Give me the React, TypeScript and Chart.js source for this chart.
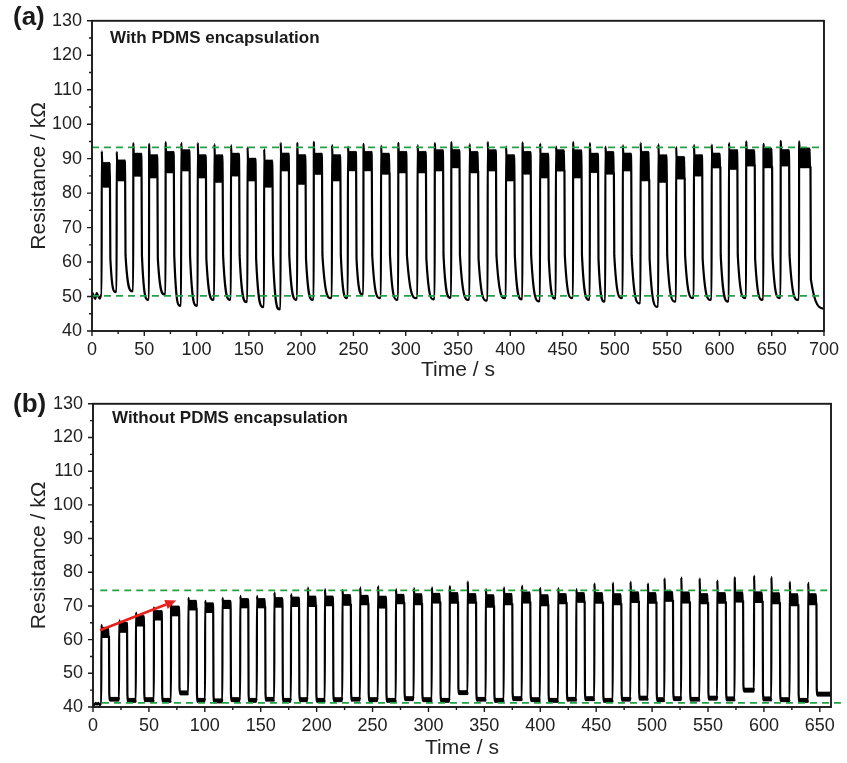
import React, { useEffect, useRef } from 'react';
import { Chart, registerables } from 'chart.js';
Chart.register(...registerables);

const FONT = '"Liberation Sans", Arial, Helvetica, sans-serif';
const INK = '#1a1a1a';
const GREEN = '#22a245';
const RED = '#e8201c';

// ---------- shared tick labels ----------
const Y_TICKS = [40, 50, 60, 70, 80, 90, 100, 110, 120, 130];
const A_X_TICKS = [0, 50, 100, 150, 200, 250, 300, 350, 400, 450, 500, 550, 600, 650, 700];
const B_X_TICKS = [0, 50, 100, 150, 200, 250, 300, 350, 400, 450, 500, 550, 600, 650];

// ---------- panel (a): with PDMS encapsulation ----------
const A_X_MAX = 700;
const A_PRE = [[0, 51.2], [1.5, 50.4], [3, 49.3], [4.5, 51.0], [6, 50.1], [7.5, 49.4], [9.0, 50.6]];
const A_RISE = [9.2, 23.5, 39.4, 54.5, 70.3, 85.2, 101.0, 116.9, 132.8, 148.6, 164.5, 180.3, 196.2, 212.0,
  229.4, 244.6, 259.5, 276.3, 292.8, 311.2, 327.7, 343.5, 361.0, 378.3, 395.8, 411.6, 428.4, 443.5,
  460.0, 476.0, 490.8, 507.5, 524.5, 541.5, 558.5, 575.5, 592.5, 609.0, 625.5, 642.0, 658.5, 676.1];
const A_DUR = [8.0, 8.2, 8.0, 8.1, 8.0, 8.2, 8.0, 8.1, 8.0, 8.0, 8.2, 8.0, 8.1, 8.0, 8.2, 8.0, 8.1, 8.3, 8.0, 8.2, 8.1,
  8.0, 8.3, 8.1, 8.2, 8.0, 8.1, 8.3, 8.2, 8.0, 8.3, 8.2, 8.4, 8.2, 8.3, 8.1, 8.4, 8.2, 8.3, 8.4, 8.2, 11.0];
const A_PEAK = [92.2, 92.0, 94.5, 94.3, 94.8, 94.6, 94.6, 94.2, 93.9, 93.3, 92.8, 94.6, 94.6, 94.9,
  94.0, 93.5, 94.3, 93.8, 94.6, 93.9, 94.5, 94.8, 94.2, 94.9, 93.6, 94.7, 94.4, 93.5,
  94.8, 94.5, 93.5, 93.9, 94.6, 94.2, 93.4, 94.0, 94.1, 94.6, 95.0, 94.3, 95.2, 95.0];
const A_TOP = [88.8, 89.5, 91.5, 91.0, 92.0, 92.5, 91.0, 91.0, 91.5, 90.0, 89.5, 91.5, 91.0, 91.5,
  91.0, 92.0, 92.0, 91.5, 92.0, 92.0, 92.5, 92.5, 92.0, 92.5, 91.0, 92.0, 91.5, 92.5,
  92.5, 91.5, 92.0, 91.5, 92.0, 91.0, 90.5, 91.0, 91.5, 92.5, 92.5, 93.0, 92.5, 93.0];
const A_BOT = [81.8, 83.7, 85.0, 84.6, 86.1, 86.6, 84.6, 83.2, 85.1, 83.7, 81.8, 86.6, 82.7, 85.5,
  83.7, 86.6, 86.6, 85.6, 86.1, 86.1, 86.6, 87.5, 86.1, 86.6, 83.7, 85.6, 84.6, 86.5,
  84.6, 86.1, 85.6, 86.6, 83.7, 83.2, 84.2, 85.1, 87.5, 87.0, 88.0, 87.5, 88.0, 87.5];
const A_KNEE = [61, 62, 62, 61, 62, 62, 61, 62, 62, 61, 62, 62, 61, 62, 62, 61, 62, 62, 62, 61, 62,
  62, 61, 62, 62, 62, 61, 62, 62, 61, 62, 62, 61, 62, 62, 61, 62, 62, 61, 62, 62, 55];
const A_LOW = [51.3, 51.5, 49.0, 50.6, 47.3, 47.3, 49.0, 49.0, 48.4, 46.9, 46.3, 49.0, 49.0, 49.5,
  49.5, 50.6, 49.5, 49.0, 49.5, 49.2, 49.6, 49.0, 48.8, 49.5, 49.2, 48.6, 49.4, 49.5,
  49.0, 48.5, 49.5, 48.0, 47.0, 48.5, 49.5, 49.0, 48.5, 49.5, 49.0, 49.5, 49.0, 46.5];
const A_REF = [
  { y: 93.3, x0: 0, x1: 700, clip: true },
  { y: 50.2, x0: 0, x1: 700, clip: true },
];

// ---------- panel (b): without PDMS encapsulation ----------
const B_X_MAX = 660;
const B_PRE = [[0, 41.1], [1.2, 40.6], [2.4, 41.2], [3.6, 40.7], [4.8, 41.2], [6.0, 40.6], [7.2, 41.0]];
const B_RISE = [7.4, 23.3, 38.3, 54.4, 69.7, 85.2, 100.2, 115.7, 131.6, 146.5, 162.1, 177.0, 192.0, 207.3,
  223.0, 238.8, 254.8, 270.8, 286.8, 302.9, 319.0, 335.0, 351.2, 367.3, 383.5, 399.7, 415.9, 432.1,
  448.3, 464.8, 480.6, 496.1, 511.0, 526.0, 542.4, 558.2, 573.8, 591.1, 606.6, 623.0, 639.5];
const B_DUR = [6.9, 7.2, 7.3, 7.2, 7.4, 7.5, 7.3, 7.4, 7.3, 7.5, 7.4, 7.3, 7.5, 7.4, 7.6, 7.5, 7.4, 7.6, 7.5, 7.7, 7.5,
  7.6, 7.5, 7.7, 7.6, 7.5, 7.7, 7.6, 7.8, 7.7, 7.6, 7.8, 7.7, 7.8, 7.7, 7.8, 7.6, 7.8, 7.7, 7.8, 7.5];
const B_PEAK = [64.4, 65.7, 68.0, 69.5, 70.5, 72.4, 71.5, 72.4, 73.0, 73.0, 74.0, 73.5, 75.5, 75.0,
  74.7, 75.5, 75.9, 75.0, 75.3, 75.5, 75.8, 77.3, 75.0, 75.5, 76.0, 75.4, 75.3, 75.0,
  76.7, 76.9, 77.2, 76.7, 78.2, 78.5, 78.2, 77.6, 78.5, 79.0, 78.6, 77.2, 76.9];
const B_TOP = [63.5, 65.0, 67.0, 68.5, 69.8, 71.5, 70.8, 71.5, 72.0, 72.0, 72.3, 72.5, 72.8, 72.8,
  73.2, 73.0, 72.8, 73.3, 73.5, 73.6, 73.8, 73.5, 73.2, 73.6, 74.0, 73.2, 73.5, 73.8,
  73.8, 73.5, 74.0, 73.8, 74.2, 74.0, 73.5, 73.8, 74.0, 74.0, 73.8, 73.5, 73.5];
const B_BOT = [60.8, 62.3, 64.2, 66.0, 67.2, 69.0, 68.2, 69.4, 69.6, 69.6, 69.8, 70.0, 70.0, 70.2,
  70.3, 70.5, 69.5, 70.8, 70.5, 71.0, 71.0, 71.0, 69.8, 70.5, 71.0, 70.2, 70.8, 71.2,
  71.0, 70.5, 71.2, 71.0, 71.5, 71.0, 70.8, 71.0, 71.3, 71.2, 70.8, 70.2, 70.5];
const B_KNEE = [44.0, 43.8, 44.0, 43.8, 45.6, 43.8, 43.6, 44.0, 43.8, 44.1, 43.8, 44.0, 43.8, 44.0,
  44.1, 44.0, 43.8, 44.3, 44.0, 43.8, 45.8, 44.1, 43.8, 44.3, 44.0, 43.8, 44.1, 44.3,
  43.8, 44.1, 44.4, 44.0, 44.3, 44.1, 44.4, 44.2, 46.5, 44.2, 44.0, 43.8, 45.3];
const B_LOW = [42.3, 42.0, 42.2, 42.0, 44.2, 42.0, 41.8, 42.2, 42.0, 42.3, 42.0, 42.2, 42.0, 42.2,
  42.3, 42.2, 42.0, 42.5, 42.2, 42.0, 44.3, 42.3, 42.0, 42.5, 42.2, 42.0, 42.3, 42.5,
  42.0, 42.3, 42.6, 42.2, 42.5, 42.3, 42.6, 42.4, 45.0, 42.4, 42.2, 42.0, 43.8];
const B_REF = [
  { y: 74.6, x0: 6.5, x1: 660, clip: true },
  { y: 41.25, x0: 8, x1: 670, clip: false },
];
const B_ARROW = [[6.3, 62.8], [74.5, 71.6]];

type P = { x: number; y: number };

// noise band: alternate between the read lower / upper envelope values
function band(pts: P[], t0: number, t1: number, lo: number, hi: number) {
  let k = 0;
  for (let t = t0; t < t1; t += 0.4, k++) pts.push({ x: t, y: k % 2 ? hi : lo });
}

function buildA(): P[] {
  const pts: P[] = A_PRE.map(([x, y]) => ({ x, y }));
  let prev = A_PRE[A_PRE.length - 1][1];
  for (let i = 0; i < A_RISE.length; i++) {
    const t0 = A_RISE[i];
    const tf = t0 + A_DUR[i];
    const last = i === A_RISE.length - 1;
    const tn = last ? A_X_MAX : A_RISE[i + 1];
    pts.push({ x: t0, y: prev });
    pts.push({ x: t0 + 0.15, y: A_PEAK[i] });
    pts.push({ x: t0 + 0.5, y: A_TOP[i] });
    band(pts, t0 + 0.9, tf - 0.2, A_BOT[i], A_TOP[i]);
    pts.push({ x: tf, y: A_BOT[i] });
    pts.push({ x: tf + 0.35, y: A_KNEE[i] });
    if (last) {
      pts.push({ x: tn, y: A_LOW[i] });
    } else {
      pts.push({ x: tn - 1.2, y: A_LOW[i] });
      pts.push({ x: tn - 0.05, y: A_LOW[i] + 0.4 });
    }
    prev = A_LOW[i] + 0.4;
  }
  return pts;
}

function buildB(): P[] {
  const pts: P[] = B_PRE.map(([x, y]) => ({ x, y }));
  let prev = B_PRE[B_PRE.length - 1][1];
  for (let i = 0; i < B_RISE.length; i++) {
    const t0 = B_RISE[i];
    const tf = t0 + B_DUR[i];
    const last = i === B_RISE.length - 1;
    const tn = last ? B_X_MAX : B_RISE[i + 1];
    pts.push({ x: t0, y: prev });
    pts.push({ x: t0 + 0.12, y: B_PEAK[i] });
    pts.push({ x: t0 + 0.45, y: B_TOP[i] });
    band(pts, t0 + 0.85, tf - 0.2, B_BOT[i], B_TOP[i]);
    pts.push({ x: tf, y: B_BOT[i] });
    pts.push({ x: tf + 0.25, y: B_KNEE[i] });
    band(pts, tf + 1.2, tn - 0.1, B_LOW[i] - 0.45, B_LOW[i] + 0.45);
    pts.push({ x: tn - 0.05, y: B_LOW[i] });
    prev = B_LOW[i];
  }
  return pts;
}

type Panel = {
  key: string;
  xMax: number;
  xTicks: number[];
  trace: P[];
  refs: { y: number; x0: number; x1: number; clip: boolean }[];
  padTop: number;
  padRight: number;
  padBottom: number;
  yAxisW: number;
  xAxisH: number;
  label: string;
  labelPos: [number, number];
  note: string;
  notePos: [number, number];
  arrow?: number[][];
};

function framePlugin(p: Panel) {
  return {
    id: 'frame' + p.key,
    afterDraw(chart: any) {
      const { ctx, chartArea: ca } = chart;
      const xs = chart.scales.x;
      const ys = chart.scales.y;
      ctx.save();
      if (p.arrow) {
        const x1 = xs.getPixelForValue(p.arrow[0][0]);
        const y1 = ys.getPixelForValue(p.arrow[0][1]);
        const x2 = xs.getPixelForValue(p.arrow[1][0]);
        const y2 = ys.getPixelForValue(p.arrow[1][1]);
        const ang = Math.atan2(y2 - y1, x2 - x1);
        const hl = 11, hw = 4.8;
        const bx = x2 - hl * Math.cos(ang);
        const by = y2 - hl * Math.sin(ang);
        ctx.strokeStyle = RED;
        ctx.fillStyle = RED;
        ctx.lineWidth = 2.6;
        ctx.beginPath();
        ctx.moveTo(x1, y1);
        ctx.lineTo(bx, by);
        ctx.stroke();
        ctx.beginPath();
        ctx.moveTo(x2, y2);
        ctx.lineTo(bx + hw * Math.sin(ang), by - hw * Math.cos(ang));
        ctx.lineTo(bx - hw * Math.sin(ang), by + hw * Math.cos(ang));
        ctx.closePath();
        ctx.fill();
      }
      ctx.strokeStyle = INK;
      ctx.lineWidth = 1.9;
      ctx.strokeRect(ca.left, ca.top, ca.right - ca.left, ca.bottom - ca.top);
      ctx.lineWidth = 1.4;
      ctx.beginPath();
      for (let i = 0; i < Y_TICKS.length; i++) {
        const py = ys.getPixelForValue(Y_TICKS[i]);
        ctx.moveTo(ca.left, py);
        ctx.lineTo(ca.left - 5, py);
        if (i < Y_TICKS.length - 1) {
          const pm = ys.getPixelForValue((Y_TICKS[i] + Y_TICKS[i + 1]) / 2);
          ctx.moveTo(ca.left, pm);
          ctx.lineTo(ca.left - 3, pm);
        }
      }
      for (let i = 0; i < p.xTicks.length; i++) {
        const px = xs.getPixelForValue(p.xTicks[i]);
        ctx.moveTo(px, ca.bottom);
        ctx.lineTo(px, ca.bottom + 5);
        const next = i < p.xTicks.length - 1 ? p.xTicks[i + 1] : p.xTicks[i] + (p.xTicks[1] - p.xTicks[0]);
        const mid = (p.xTicks[i] + next) / 2;
        if (mid <= p.xMax) {
          const pm = xs.getPixelForValue(mid);
          ctx.moveTo(pm, ca.bottom);
          ctx.lineTo(pm, ca.bottom + 3);
        }
      }
      ctx.stroke();
      ctx.fillStyle = INK;
      ctx.textBaseline = 'alphabetic';
      ctx.textAlign = 'left';
      ctx.font = `bold 26px ${FONT}`;
      ctx.fillText(p.label, p.labelPos[0], p.labelPos[1]);
      ctx.font = `bold 17px ${FONT}`;
      ctx.fillText(p.note, p.notePos[0], p.notePos[1]);
      ctx.restore();
    },
  };
}

function makeConfig(p: Panel): any {
  const datasets: any[] = p.refs.map((r) => ({
    data: [{ x: r.x0, y: r.y }, { x: r.x1, y: r.y }],
    borderColor: GREEN,
    borderWidth: 1.7,
    borderDash: [7, 5],
    pointRadius: 0,
    tension: 0,
    clip: r.clip ? undefined : false,
  }));
  datasets.push({
    data: p.trace,
    borderColor: '#000',
    borderWidth: 2.2,
    pointRadius: 0,
    cubicInterpolationMode: 'monotone',
    fill: false,
  });
  return {
    type: 'line',
    data: { datasets },
    options: {
      animation: false,
      responsive: false,
      devicePixelRatio: 1,
      events: [],
      layout: { padding: { left: 0, right: p.padRight, top: p.padTop, bottom: p.padBottom } },
      plugins: { legend: { display: false }, tooltip: { enabled: false } },
      scales: {
        x: {
          type: 'linear',
          min: 0,
          max: p.xMax,
          afterBuildTicks: (s: any) => { s.ticks = p.xTicks.map((v) => ({ value: v })); },
          afterFit: (s: any) => { s.height = p.xAxisH; },
          grid: { display: false, drawTicks: false },
          border: { display: false },
          ticks: { autoSkip: false, maxRotation: 0, includeBounds: false, font: { family: FONT, size: 18 }, color: '#222', padding: 8 },
          title: { display: true, text: 'Time / s', font: { family: FONT, size: 21 }, color: '#222', padding: 0 },
        },
        y: {
          type: 'linear',
          min: 40,
          max: 130,
          afterBuildTicks: (s: any) => { s.ticks = Y_TICKS.map((v) => ({ value: v })); },
          afterFit: (s: any) => { s.width = p.yAxisW; },
          grid: { display: false, drawTicks: false },
          border: { display: false },
          ticks: { autoSkip: false, font: { family: FONT, size: 18 }, color: '#222', padding: 10 },
          title: { display: true, text: 'Resistance / kΩ', font: { family: FONT, size: 21 }, color: '#222', padding: { top: 27, bottom: 0 } },
        },
      },
    },
    plugins: [framePlugin(p)],
  };
}

export default function App() {
  const refA = useRef<HTMLCanvasElement>(null);
  const refB = useRef<HTMLCanvasElement>(null);
  useEffect(() => {
    const pa: Panel = {
      key: 'a', xMax: A_X_MAX, xTicks: A_X_TICKS, trace: buildA(), refs: A_REF,
      padTop: 20, padRight: 20, padBottom: 0, yAxisW: 92, xAxisH: 52,
      label: '(a)', labelPos: [13, 24.5], note: 'With PDMS encapsulation', notePos: [110, 43],
    };
    const pb: Panel = {
      key: 'b', xMax: B_X_MAX, xTicks: B_X_TICKS, trace: buildB(), refs: B_REF,
      padTop: 13, padRight: 16, padBottom: 2, yAxisW: 93, xAxisH: 54,
      label: '(b)', labelPos: [13, 28.5], note: 'Without PDMS encapsulation', notePos: [112, 40.3],
      arrow: B_ARROW,
    };
    const ca = new Chart(refA.current as HTMLCanvasElement, makeConfig(pa));
    const cb = new Chart(refB.current as HTMLCanvasElement, makeConfig(pb));
    return () => { ca.destroy(); cb.destroy(); };
  }, []);
  return (
    <div style={{ position: 'absolute', left: 0, top: 0, width: 847, height: 763, background: '#fff' }}>
      <canvas ref={refA} width={847} height={383} style={{ position: 'absolute', left: 0, top: 0 }} />
      <canvas ref={refB} width={847} height={380} style={{ position: 'absolute', left: 0, top: 383 }} />
    </div>
  );
}
